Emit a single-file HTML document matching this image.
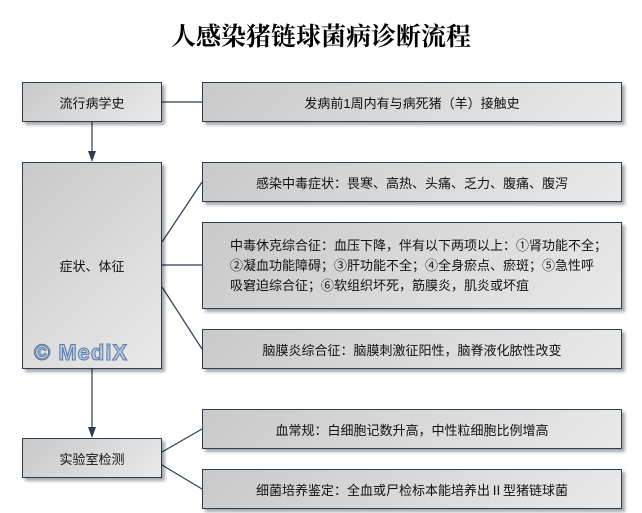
<!DOCTYPE html>
<html><head><meta charset="utf-8"><style>
body{margin:0;width:642px;height:513px;background:#fff;position:relative;overflow:hidden;font-family:"Liberation Sans","Noto Sans CJK SC",sans-serif;}
.b{position:absolute;box-sizing:border-box;border:1px solid #2e3d52;background:linear-gradient(135deg,#c9c9c9 0%,#e9e9e9 100%);box-shadow:3px 3px 3px rgba(0,0,0,0.35);display:flex;align-items:center;justify-content:center;font-size:13px;color:#111;text-align:center;}
.t{position:absolute;left:0;width:642px;top:17px;text-align:center;font:bold 25px "Liberation Serif","Noto Serif CJK SC",serif;color:#000;}
svg{position:absolute;left:0;top:0;}
</style></head><body>
<div class="t">人感染猪链球菌病诊断流程</div>
<svg width="642" height="513">
<g stroke="#2e3d52" stroke-width="1.2" fill="none">
<line x1="162" y1="102" x2="202" y2="102"/>
<line x1="92" y1="122" x2="92" y2="152"/>
<line x1="162" y1="242" x2="202" y2="182"/>
<line x1="162" y1="265" x2="202" y2="265"/>
<line x1="162" y1="287" x2="202" y2="349"/>
<line x1="92" y1="369" x2="92" y2="428"/>
<line x1="162" y1="452" x2="202" y2="429"/>
<line x1="162" y1="465" x2="202" y2="489"/>
</g>
<polygon points="88,151 96,151 92,162" fill="#2e3d52"/>
<polygon points="88,427 96,427 92,438" fill="#2e3d52"/>
</svg>
<div class="b" style="left:22px;top:82px;width:140px;height:40px;">流行病学史</div>
<div class="b" style="left:22px;top:162px;width:140px;height:207px;">症状、体征
<div style="position:absolute;left:11px;bottom:2px;font:bold 22px 'Liberation Sans',sans-serif;letter-spacing:1px;color:#b8c8e0;-webkit-text-stroke:1px #5a7aa8;white-space:nowrap;">© MediX</div></div>
<div class="b" style="left:22px;top:438px;width:140px;height:40px;">实验室检测</div>
<div class="b" style="left:202px;top:82px;width:420px;height:40px;">发病前1周内有与病死猪（羊）接触史</div>
<div class="b" style="left:202px;top:162px;width:420px;height:40px;">感染中毒症状：畏寒、高热、头痛、乏力、腹痛、腹泻</div>
<div class="b" style="left:202px;top:222px;width:420px;height:87px;justify-content:flex-start;text-align:left;padding-left:27px;line-height:20px;">中毒休克综合征：血压下降，伴有以下两项以上：①肾功能不全；<br>②凝血功能障碍；③肝功能不全；④全身瘀点、瘀斑；⑤急性呼<br>吸窘迫综合征；⑥软组织坏死，筋膜炎，肌炎或坏疽</div>
<div class="b" style="left:202px;top:329px;width:420px;height:40px;">脑膜炎综合征：脑膜刺激征阳性，脑脊液化脓性改变</div>
<div class="b" style="left:202px;top:409px;width:420px;height:40px;">血常规：白细胞记数升高，中性粒细胞比例增高</div>
<div class="b" style="left:202px;top:469px;width:420px;height:40px;">细菌培养鉴定：全血或尸检标本能培养出Ⅱ型猪链球菌</div>
</body></html>
